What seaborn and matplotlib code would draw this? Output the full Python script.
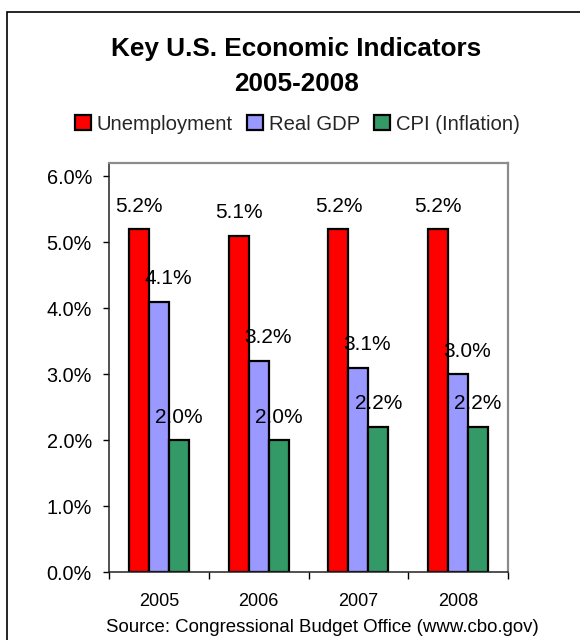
import matplotlib
matplotlib.use("Agg")
import matplotlib.pyplot as plt
from matplotlib.patches import Rectangle
from matplotlib.ticker import FuncFormatter, FixedLocator
import seaborn as sns
import pandas as pd

years = ["2005", "2006", "2007", "2008"]
series = ["Unemployment", "Real GDP", "CPI (Inflation)"]
unemployment = [5.2, 5.1, 5.2, 5.2]
real_gdp = [4.1, 3.2, 3.1, 3.0]
cpi = [2.0, 2.0, 2.2, 2.2]
colors = ["#FF0000", "#9999FF", "#339966"]
yticks = [0, 1, 2, 3, 4, 5, 6]

rows = []
for name, vals in zip(series, [unemployment, real_gdp, cpi]):
    for y, v in zip(years, vals):
        rows.append({"Year": y, "Series": name, "Value": v})
df = pd.DataFrame(rows)

sns.set_theme(style="white")
plt.rcParams["font.family"] = ["Liberation Sans", "DejaVu Sans"]

W, H = 580, 640
fig = plt.figure(figsize=(W / 100, H / 100), dpi=100)
ax = fig.add_axes([109 / W, 1 - 572 / H, (508 - 109) / W, (572 - 163) / H])

sns.barplot(data=df, x="Year", y="Value", hue="Series", order=years,
            hue_order=series, palette=colors, width=0.6, gap=0,
            edgecolor="black", linewidth=1.6, saturation=1, ax=ax,
            errorbar=None)

ax.set_ylim(0, 6.2)
ax.set_xlim(-0.5, 3.5)
ax.set_xlabel("")
ax.set_ylabel("")
ax.yaxis.set_major_locator(FixedLocator(yticks))
ax.yaxis.set_major_formatter(FuncFormatter(lambda v, p: f"{v:.1f}%"))
ax.tick_params(axis="y", which="major", left=True, length=4.3, width=1,
               color="black", pad=8.0, labelsize=14.3, labelcolor="black")
ax.tick_params(axis="x", which="major", bottom=False, length=0, pad=15,
               labelsize=13, labelcolor="black")
ax.set_xticks([-0.5, 0.5, 1.5, 2.5, 3.5], minor=True)
ax.tick_params(axis="x", which="minor", bottom=True, length=5, width=1,
               color="black", direction="out")

for side in ["top", "right"]:
    ax.spines[side].set_color("#8C8C8C")
    ax.spines[side].set_linewidth(1.6)
for side in ["left", "bottom"]:
    ax.spines[side].set_color("#222222")
    ax.spines[side].set_linewidth(1.1)
ax.grid(False)

# data labels
x_offsets = [0, 6.5, 0]
for cont, dx in zip(ax.containers, x_offsets):
    for bar in cont:
        h = bar.get_height()
        ax.annotate(f"{h:.1f}%", (bar.get_x() + bar.get_width() / 2, h),
                    xytext=(dx, 16.5), textcoords="offset points",
                    ha="center", va="center", fontsize=15, color="black")

# legend
handles, labels = ax.get_legend_handles_labels()
ax.legend(handles, labels, loc="center", ncol=3,
          bbox_to_anchor=(297.5 / W, 1 - 124 / H),
          bbox_transform=fig.transFigure, frameon=False, fontsize=14.6,
          handlelength=0.75, handleheight=0.75, handletextpad=0.3,
          columnspacing=0.72, borderpad=0, borderaxespad=0)

# title
fig.text(296.5 / W, 1 - 56 / H, "Key U.S. Economic Indicators", ha="center",
         va="baseline", fontsize=18.8, fontweight="bold", color="black")
fig.text(296.5 / W, 1 - 90.7 / H, "2005-2008", ha="center",
         va="baseline", fontsize=18.8, fontweight="bold", color="black")

# source
fig.text(322 / W, 1 - 627 / H, "Source: Congressional Budget Office (www.cbo.gov)",
         ha="center", va="center", fontsize=13.4, color="black")

# outer frame
fig.add_artist(Rectangle((7.3 / W, -0.2), 1.5, 1.2 - 12 / H,
                         transform=fig.transFigure, fill=False,
                         edgecolor="black", linewidth=1.2))

fig.savefig("out.png", dpi=100)
